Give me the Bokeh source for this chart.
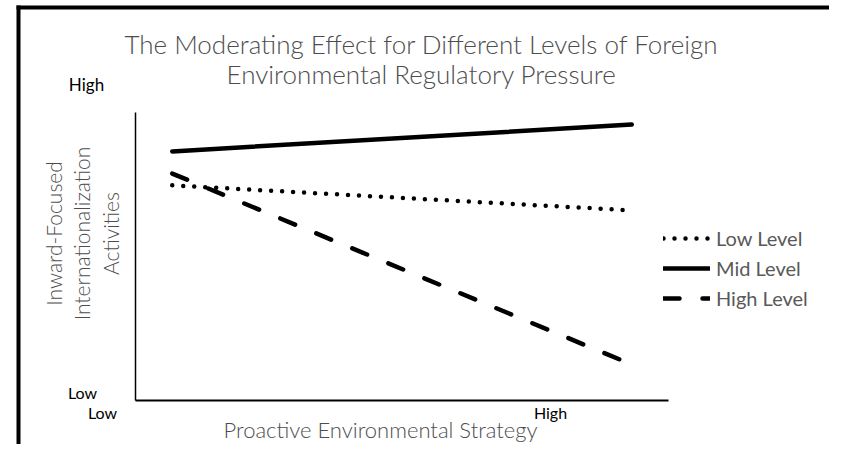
import math
from bokeh.plotting import figure
from bokeh.models import Range1d, Label, Legend, LegendItem, BoxAnnotation, FixedTicker
from bokeh.embed import file_html
from bokeh.resources import INLINE

# ---- data ----
x_levels = [-1, 1]
x_tick_labels = ["Low", "High"]
y_tick_labels = ["Low", "High"]
low_level = [0.747, 0.660]
mid_level = [0.865, 0.958]
high_level = [0.788, 0.125]
series_names = ["Low Level", "Mid Level", "High Level"]
title_lines = ["The Moderating Effect for Different Levels of Foreign",
               "Environmental Regulatory Pressure"]
x_title = "Proactive Environmental Strategy"
y_title_lines = ["Inward-Focused", "Internationalization", "Activities"]

# ---- layout (pixel coords of the picture) ----
W, H = 829, 444
AL, AR, AT, AB = 135, 668, 112, 400      # plot area of the reference
XA, XB = -1.16, 1.16                     # data x at AL / AR
YA, YB = 0.0, 1.0                        # data y at AB / AT
sx = (XB - XA) / (AR - AL)
sy = (YB - YA) / (AB - AT)


def P(xp):
    return XA + (xp - AL) * sx


def Q(yp):
    return YA + (AB - yp) * sy


p = figure(width=W, height=H, title=None,
           x_range=Range1d(P(0), P(W)), y_range=Range1d(Q(H), Q(0)),
           output_backend="svg", toolbar_location=None, min_border=0)
p.xgrid.visible = False
p.ygrid.visible = False
p.outline_line_color = None
p.background_fill_color = "white"
p.border_fill_color = "white"
for ax in (p.xaxis[0], p.yaxis[0]):
    ax.ticker = FixedTicker(ticks=[])
    ax.major_tick_line_color = None
    ax.minor_tick_line_color = None
    ax.major_label_text_font_size = "0px"
    ax.major_tick_out = 0
    ax.major_label_standoff = 0
    ax.axis_line_color = "black"
p.xaxis.fixed_location = YA
p.xaxis.bounds = (XA, XB)
p.xaxis.axis_line_width = 2
p.yaxis.fixed_location = XA
p.yaxis.bounds = (YA, YB)
p.yaxis.axis_line_width = 1.5

GRAY = "#4d4d4d"
FONT = "Lato"
LIGHT = "'Lato Light', Lato"

r_low = p.line(x_levels, low_level, line_width=4.5, line_color="black",
               line_dash="0 11", line_cap="round")
r_mid = p.line(x_levels, mid_level, line_width=4.5, line_color="black",
               line_cap="round")
r_high = p.line(x_levels, high_level, line_width=4.5, line_color="black",
                line_dash="16 23", line_cap="round")

legend = Legend(items=[LegendItem(label=series_names[0], renderers=[r_low]),
                       LegendItem(label=series_names[1], renderers=[r_mid]),
                       LegendItem(label=series_names[2], renderers=[r_high])],
                location=(663, H - 310), glyph_width=47, glyph_height=20,
                label_height=20, spacing=6, padding=0, margin=0,
                border_line_color=None, background_fill_alpha=0,
                label_standoff=6, label_text_font=FONT,
                label_text_font_size="20px", label_text_color="#595959")
p.add_layout(legend, "center")


def lab(text, xp, yp, size, color, angle=0.0, font=FONT):
    p.add_layout(Label(x=P(xp), y=Q(yp), text=text, text_align="center",
                       text_baseline="middle", text_font=font,
                       text_font_size=size, text_color=color, angle=angle))


lab(title_lines[0], 421, 43, "26px", GRAY, font=LIGHT)
lab(title_lines[1], 421, 73, "26px", GRAY, font=LIGHT)
lab(x_title, 380, 429, "22px", GRAY, font=LIGHT)
for xp, t in zip([53, 81, 110], y_title_lines):
    lab(t, xp, 233, "21px", GRAY, angle=math.pi / 2, font=LIGHT)

lab(y_tick_labels[1], 86, 84, "17px", "black")
lab(y_tick_labels[0], 82, 392, "16px", "black")
lab(x_tick_labels[0], 102, 412, "16px", "black")
lab(x_tick_labels[1], 550, 412, "16px", "black")

# black frame of the picture (left and top edges)
p.add_layout(BoxAnnotation(left=P(16), right=P(20), top=Q(5), bottom=Q(H),
                           fill_color="black", fill_alpha=1, line_color=None))
p.add_layout(BoxAnnotation(left=P(16), right=P(W), top=Q(5), bottom=Q(9),
                           fill_color="black", fill_alpha=1, line_color=None))

open("out.html", "w").write(file_html(p, INLINE))
